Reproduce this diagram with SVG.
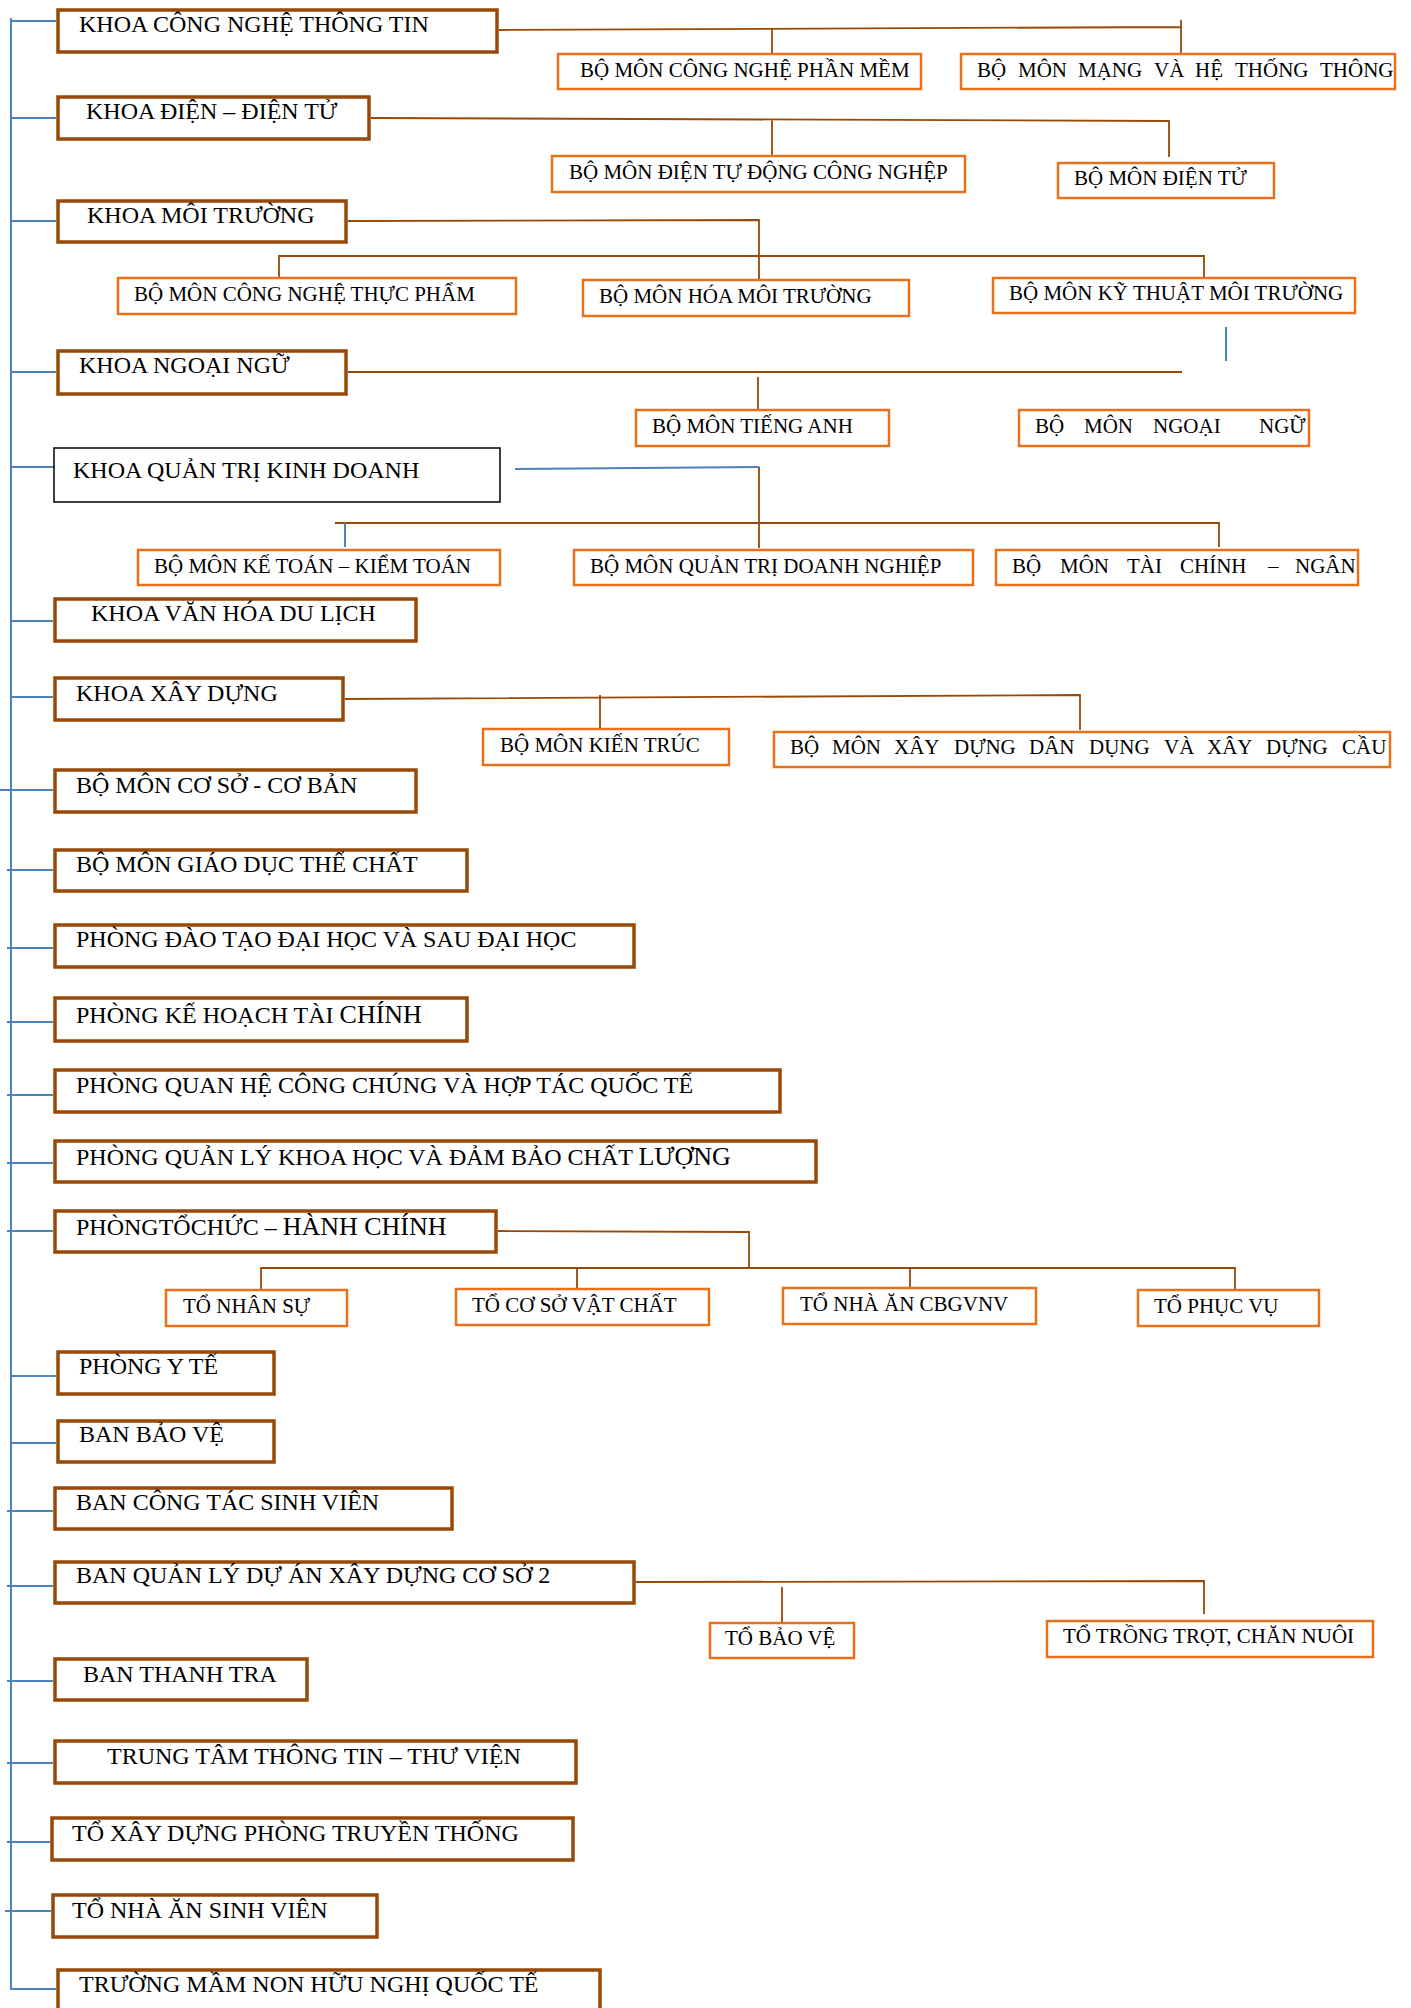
<svg xmlns="http://www.w3.org/2000/svg" width="1411" height="2008" viewBox="0 0 1411 2008">
<style>
.m rect{fill:#fff;stroke:#984807;stroke-width:3.5}
.k rect{fill:#fff;stroke:#000;stroke-width:1.5}
.s rect{fill:#fff;stroke:#E8721C;stroke-width:2.5}
text{font-family:"Liberation Serif","Times New Roman",serif;font-size:24px;fill:#000}
.s text{font-size:21px}
.big{font-size:26px}
#connectors .b{stroke:#984807;stroke-width:1.8;fill:none}
#connectors .u{stroke:#4F81BD;stroke-width:2;fill:none}
</style>
<rect width="1411" height="2008" fill="#fff"/>
<g id="connectors">
<path class="u" d="M11 18V1989H56"/>
<path class="u" d="M11 21H56M11 118H56M11 221H56M11 372H56M11 467H55M11 621H53M11 697H53M0 790H53M7 870H53M7 948H53M7 1022H53M7 1095H53M7 1163H53M7 1231H53M11 1376H56M11 1443H56M7 1511H53M7 1586H53M7 1681H53M7 1763H53M7 1842H50M5 1911H51"/>
<path class="b" d="M499 30L1181 27M772 28V53M1181 20V53"/>
<path class="b" d="M371 118L1169 121V157M772 119V155"/>
<path class="b" d="M348 221L759 220V279M279 277V256H1204V277"/>
<path class="u" d="M1226 327V361"/>
<path class="b" d="M348 372H1182M758 377V409"/>
<path class="u" d="M515 469L759 467"/>
<path class="b" d="M759 467V548M335 523H1219V547"/>
<path class="u" d="M345 523V547"/>
<path class="b" d="M345 699L1080 695V730M600 695V728"/>
<path class="b" d="M498 1231L749 1232V1268M261 1289V1268H1235V1289M577 1268V1288M910 1268V1288"/>
<path class="b" d="M636 1582L1204 1581V1614M782 1587V1622"/>
</g>
<g id="n1" class="m"><rect x="58" y="10" width="439" height="42"/><text x="79" y="32">KHOA CÔNG NGHỆ THÔNG TIN</text></g>
<g id="n2" class="m"><rect x="58" y="97" width="311" height="42"/><text x="86" y="119">KHOA ĐIỆN – ĐIỆN TỬ</text></g>
<g id="n3" class="m"><rect x="58" y="201" width="288" height="41"/><text x="87" y="223">KHOA MÔI TRƯỜNG</text></g>
<g id="n4" class="m"><rect x="58" y="351" width="288" height="43"/><text x="79" y="373">KHOA NGOẠI NGỮ</text></g>
<g id="n5" class="k"><rect x="54" y="448" width="446" height="54"/><text x="73" y="478">KHOA QUẢN TRỊ KINH DOANH</text></g>
<g id="n6" class="m"><rect x="55" y="599" width="361" height="42"/><text x="91" y="621">KHOA VĂN HÓA DU LỊCH</text></g>
<g id="n7" class="m"><rect x="55" y="678" width="288" height="42"/><text x="76" y="701">KHOA XÂY DỰNG</text></g>
<g id="n8" class="m"><rect x="55" y="770" width="361" height="42"/><text x="76" y="793">BỘ MÔN CƠ SỞ - CƠ BẢN</text></g>
<g id="n9" class="m"><rect x="55" y="850" width="412" height="41"/><text x="76" y="872">BỘ MÔN GIÁO DỤC THỂ CHẤT</text></g>
<g id="n10" class="m"><rect x="55" y="925" width="579" height="42"/><text x="76" y="947">PHÒNG ĐÀO TẠO ĐẠI HỌC VÀ SAU ĐẠI HỌC</text></g>
<g id="n11" class="m"><rect x="55" y="998" width="412" height="43"/><text x="76" y="1023">PHÒNG KẾ HOẠCH TÀI <tspan class="big">CHÍNH</tspan></text></g>
<g id="n12" class="m"><rect x="55" y="1070" width="725" height="42"/><text x="76" y="1093">PHÒNG QUAN HỆ CÔNG CHÚNG VÀ HỢP TÁC QUỐC TẾ</text></g>
<g id="n13" class="m"><rect x="55" y="1141" width="761" height="41"/><text x="76" y="1165">PHÒNG QUẢN LÝ KHOA HỌC VÀ ĐẢM BẢO CHẤT <tspan class="big">LƯỢNG</tspan></text></g>
<g id="n14" class="m"><rect x="55" y="1211" width="441" height="41"/><text x="76" y="1235">PHÒNGTỔCHỨC – <tspan class="big">HÀNH CHÍNH</tspan></text></g>
<g id="n15" class="m"><rect x="58" y="1352" width="216" height="42"/><text x="79" y="1374">PHÒNG Y TẾ</text></g>
<g id="n16" class="m"><rect x="58" y="1421" width="216" height="41"/><text x="79" y="1442">BAN BẢO VỆ</text></g>
<g id="n17" class="m"><rect x="55" y="1488" width="397" height="41"/><text x="76" y="1510">BAN CÔNG TÁC SINH VIÊN</text></g>
<g id="n18" class="m"><rect x="55" y="1562" width="579" height="41"/><text x="76" y="1583">BAN QUẢN LÝ DỰ ÁN XÂY DỰNG CƠ SỞ 2</text></g>
<g id="n19" class="m"><rect x="55" y="1659" width="252" height="41"/><text x="83" y="1682">BAN THANH TRA</text></g>
<g id="n20" class="m"><rect x="55" y="1741" width="521" height="42"/><text x="107" y="1764">TRUNG TÂM THÔNG TIN – THƯ VIỆN</text></g>
<g id="n21" class="m"><rect x="52" y="1818" width="521" height="42"/><text x="72" y="1841">TỔ XÂY DỰNG PHÒNG TRUYỀN THỐNG</text></g>
<g id="n22" class="m"><rect x="53" y="1895" width="324" height="42"/><text x="72" y="1918">TỔ NHÀ ĂN SINH VIÊN</text></g>
<g id="n23" class="m"><rect x="58" y="1970" width="542" height="60"/><text x="79" y="1992">TRƯỜNG MẦM NON HỮU NGHỊ QUỐC TẾ</text></g>

<g id="sa" class="s"><rect x="558" y="54" width="363" height="35"/><text x="580" y="77">BỘ MÔN CÔNG NGHỆ PHẦN MỀM</text></g>
<g id="sb" class="s"><rect x="961" y="54" width="434" height="35"/><text y="77"><tspan x="977">BỘ</tspan><tspan x="1018">MÔN</tspan><tspan x="1078">MẠNG</tspan><tspan x="1154">VÀ</tspan><tspan x="1195">HỆ</tspan><tspan x="1235">THỐNG</tspan><tspan x="1320">THÔNG</tspan></text></g>
<g id="sc" class="s"><rect x="552" y="156" width="413" height="36"/><text x="569" y="179">BỘ MÔN ĐIỆN TỰ ĐỘNG CÔNG NGHỆP</text></g>
<g id="sd" class="s"><rect x="1058" y="163" width="216" height="35"/><text x="1074" y="185">BỘ MÔN ĐIỆN TỬ</text></g>
<g id="se" class="s"><rect x="118" y="278" width="398" height="36"/><text x="134" y="301">BỘ MÔN CÔNG NGHỆ THỰC PHẨM</text></g>
<g id="sf" class="s"><rect x="583" y="280" width="326" height="36"/><text x="599" y="303">BỘ MÔN HÓA MÔI TRƯỜNG</text></g>
<g id="sg" class="s"><rect x="993" y="278" width="362" height="35"/><text x="1009" y="300">BỘ MÔN KỸ THUẬT MÔI TRƯỜNG</text></g>
<g id="sh" class="s"><rect x="636" y="410" width="253" height="36"/><text x="652" y="433">BỘ MÔN TIẾNG ANH</text></g>
<g id="si" class="s"><rect x="1019" y="410" width="290" height="36"/><text y="433"><tspan x="1035">BỘ</tspan><tspan x="1084">MÔN</tspan><tspan x="1153">NGOẠI</tspan><tspan x="1259">NGỮ</tspan></text></g>
<g id="sj" class="s"><rect x="138" y="550" width="362" height="35"/><text x="154" y="573">BỘ MÔN KẾ TOÁN – KIỂM TOÁN</text></g>
<g id="sk" class="s"><rect x="574" y="550" width="399" height="35"/><text x="590" y="573">BỘ MÔN QUẢN TRỊ DOANH NGHIỆP</text></g>
<g id="sl" class="s"><rect x="996" y="550" width="362" height="35"/><text y="573"><tspan x="1012">BỘ</tspan><tspan x="1060">MÔN</tspan><tspan x="1127">TÀI</tspan><tspan x="1180">CHÍNH</tspan><tspan x="1268">–</tspan><tspan x="1295">NGÂN</tspan></text></g>
<g id="sm" class="s"><rect x="483" y="729" width="246" height="36"/><text x="500" y="752">BỘ MÔN KIẾN TRÚC</text></g>
<g id="sn" class="s"><rect x="774" y="732" width="616" height="35"/><text y="754"><tspan x="790">BỘ</tspan><tspan x="832">MÔN</tspan><tspan x="894">XÂY</tspan><tspan x="954">DỰNG</tspan><tspan x="1029">DÂN</tspan><tspan x="1089">DỤNG</tspan><tspan x="1164">VÀ</tspan><tspan x="1207">XÂY</tspan><tspan x="1266">DỰNG</tspan><tspan x="1342">CẦU</tspan></text></g>
<g id="so" class="s"><rect x="166" y="1290" width="181" height="36"/><text x="183" y="1313">TỔ NHÂN SỰ</text></g>
<g id="sp" class="s"><rect x="456" y="1289" width="253" height="36"/><text x="472" y="1312">TỔ CƠ SỞ VẬT CHẤT</text></g>
<g id="sq" class="s"><rect x="783" y="1288" width="253" height="36"/><text x="800" y="1311">TỔ NHÀ ĂN CBGVNV</text></g>
<g id="sr" class="s"><rect x="1138" y="1290" width="181" height="36"/><text x="1154" y="1313">TỔ PHỤC VỤ</text></g>
<g id="ss" class="s"><rect x="710" y="1623" width="144" height="35"/><text x="725" y="1645">TỔ BẢO VỆ</text></g>
<g id="st" class="s"><rect x="1047" y="1621" width="326" height="36"/><text x="1063" y="1643">TỔ TRỒNG TRỌT, CHĂN NUÔI</text></g>
</svg>
